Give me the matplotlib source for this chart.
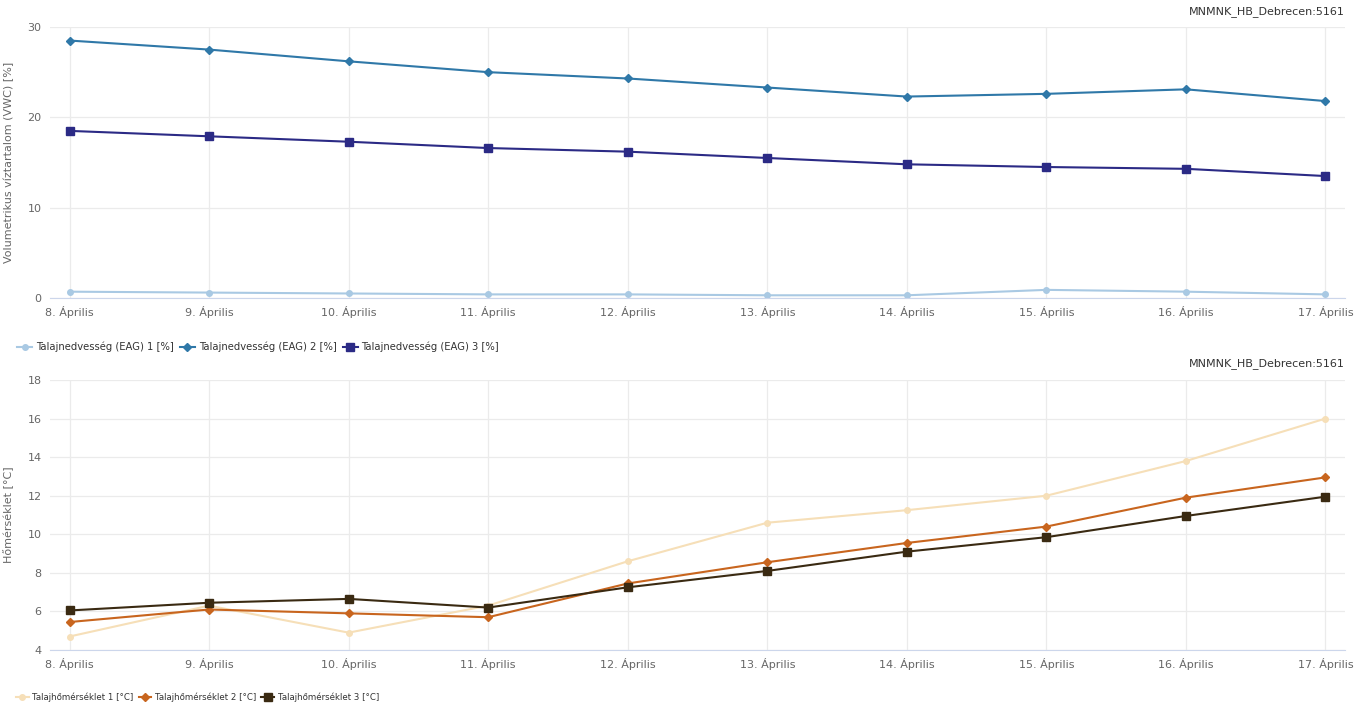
import matplotlib
matplotlib.use("Agg")
import matplotlib.pyplot as plt
from matplotlib.lines import Line2D

days = ["8. Április", "9. Április", "10. Április", "11. Április", "12. Április",
        "13. Április", "14. Április", "15. Április", "16. Április", "17. Április"]

vwc1 = [0.7, 0.6, 0.5, 0.4, 0.4, 0.3, 0.3, 0.9, 0.7, 0.4]
vwc2 = [28.5, 27.5, 26.2, 25.0, 24.3, 23.3, 22.3, 22.6, 23.1, 21.8]
vwc3 = [18.5, 17.9, 17.3, 16.6, 16.2, 15.5, 14.8, 14.5, 14.3, 13.5]

t1 = [4.7, 6.3, 4.9, 6.3, 8.6, 10.6, 11.25, 12.0, 13.8, 16.0]
t2 = [5.45, 6.1, 5.9, 5.7, 7.45, 8.55, 9.55, 10.4, 11.9, 12.95]
t3 = [6.05, 6.45, 6.65, 6.2, 7.25, 8.1, 9.1, 9.85, 10.95, 11.95]

vwc_names = ["Talajnedvesség (EAG) 1 [%]", "Talajnedvesség (EAG) 2 [%]", "Talajnedvesség (EAG) 3 [%]"]
t_names = ["Talajhőmérséklet 1 [°C]", "Talajhőmérséklet 2 [°C]", "Talajhőmérséklet 3 [°C]"]
station = "MNMNK_HB_Debrecen:5161"

W, H = 1367, 704
fig = plt.figure(figsize=(W / 100, H / 100), dpi=100)
plt.rcParams['font.family'] = ['DejaVu Sans']

def fx(px):
    return px / W

def fy(py):
    return 1 - py / H

left, right = 50, 1345
ax1 = fig.add_axes([fx(left), fy(298), fx(right - left), fy(27) - fy(298)])
ax2 = fig.add_axes([fx(left), fy(650), fx(right - left), fy(380) - fy(650)])

x = list(range(len(days)))

def style(ax, ylim, yticks, ylabel):
    ax.set_xlim(-0.14, 9.14)
    ax.set_ylim(*ylim)
    ax.set_yticks(yticks)
    ax.set_xticks(x)
    ax.set_xticklabels(days)
    for s in ['top', 'right', 'left']:
        ax.spines[s].set_visible(False)
    ax.spines['bottom'].set_color('#ccd6eb')
    ax.grid(True, color='#ebebeb', linewidth=0.9)
    ax.set_axisbelow(True)
    ax.tick_params(axis='both', length=0, labelsize=8, colors='#666666', pad=6)
    ax.set_ylabel(ylabel, fontsize=8, color='#666666', labelpad=10)

style(ax1, (0, 30), [0, 10, 20, 30], "Volumetrikus víztartalom (VWC) [%]")
style(ax2, (4, 18), [4, 6, 8, 10, 12, 14, 16, 18], "Hőmérséklet [°C]")

c_v = ['#a9c9e3', '#2f78a8', '#2b2a85']
c_t = ['#f6dfb8', '#c8651e', '#3a2a12']

ax1.plot(x, vwc1, color=c_v[0], marker='o', ms=4, lw=1.5)
ax1.plot(x, vwc2, color=c_v[1], marker='D', ms=4, lw=1.5)
ax1.plot(x, vwc3, color=c_v[2], marker='s', ms=6, lw=1.5)

ax2.plot(x, t1, color=c_t[0], marker='o', ms=4, lw=1.5)
ax2.plot(x, t2, color=c_t[1], marker='D', ms=4, lw=1.5)
ax2.plot(x, t3, color=c_t[2], marker='s', ms=6, lw=1.5)

fig.text(fx(1345), fy(12), station, ha='right', va='center', fontsize=8, color='#333333')
fig.text(fx(1345), fy(364), station, ha='right', va='center', fontsize=8, color='#333333')

def legend(names, colors, markers, sizes, ypix, fs):
    handles = [Line2D([0], [0], color=c, marker=m, ms=s, lw=1.5) for c, m, s in zip(colors, markers, sizes)]
    fig.legend(handles, names, loc='center left', bbox_to_anchor=(fx(8), fy(ypix)),
               ncol=3, frameon=False, fontsize=fs, handlelength=1.5, columnspacing=0.6,
               handletextpad=0.4, labelcolor='#333333')

legend(vwc_names, c_v, ['o', 'D', 's'], [4, 4, 6], 347, 7.2)
legend(t_names, c_t, ['o', 'D', 's'], [4, 4, 6], 697, 6.2)

fig.savefig("out.png", dpi=100)
